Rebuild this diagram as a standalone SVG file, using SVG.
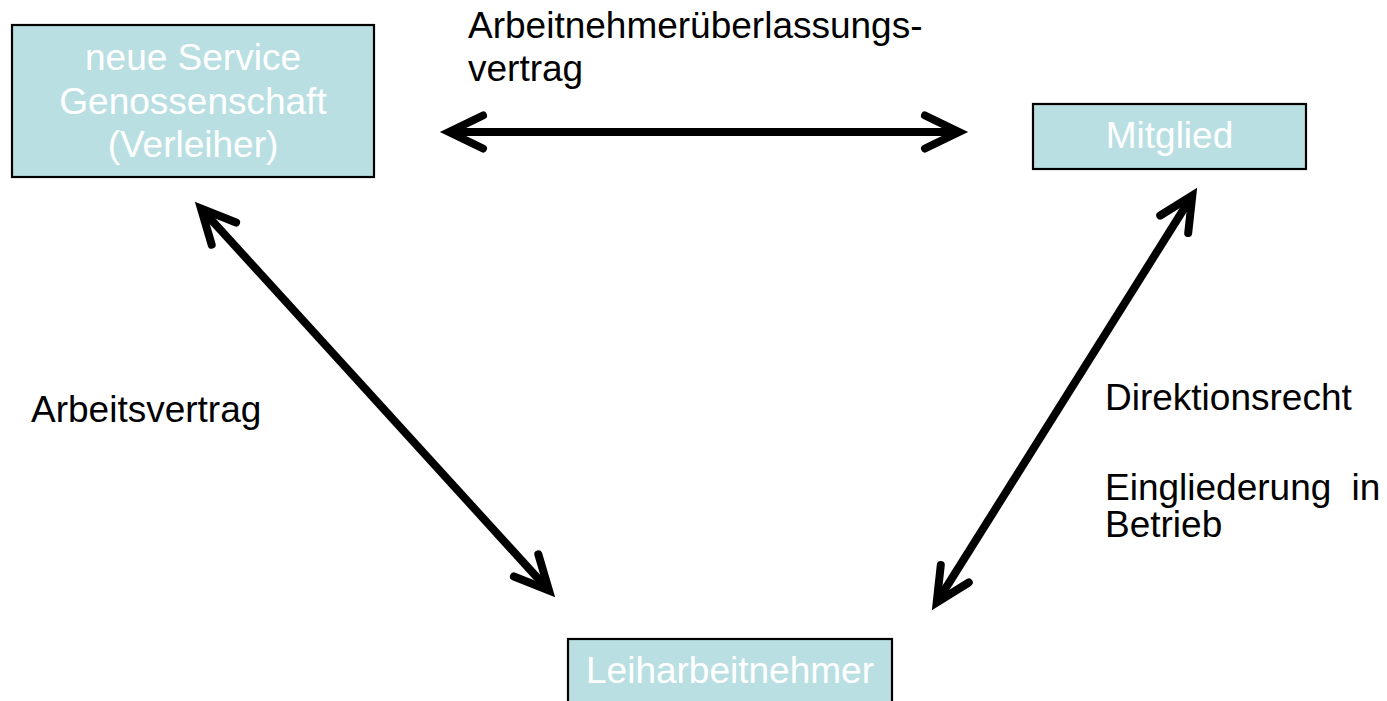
<svg xmlns="http://www.w3.org/2000/svg" width="1387" height="701" viewBox="0 0 1387 701">
  <style>
    .box { fill: #B9DFE2; stroke: #000; stroke-width: 2.2; }
    .btxt { font-family: "Liberation Sans", Arial, sans-serif; font-size: 37px; fill: #FFFFFF; text-anchor: middle; }
    .lbl { font-family: "Liberation Sans", Arial, sans-serif; font-size: 37px; fill: #000; }
    .conn { stroke: #000; stroke-width: 8; fill: none; marker-start: url(#chev); marker-end: url(#chev); }
  </style>
  <defs>
    <marker id="chev" markerUnits="userSpaceOnUse" viewBox="-45 -25 65 50" markerWidth="65" markerHeight="50" refX="0" refY="0" orient="auto-start-reverse" overflow="visible">
      <path d="M-34,-16.5 L0,0 L-34,16.5" fill="none" stroke="#000" stroke-width="8" stroke-linecap="round" stroke-linejoin="miter" stroke-miterlimit="10"/>
    </marker>
  </defs>
  <rect width="1387" height="701" fill="#FFFFFF"/>

  <g id="node-genossenschaft">
    <rect class="box" x="12" y="25" width="362" height="152"/>
    <text class="btxt" x="193" y="70">neue Service</text>
    <text class="btxt" x="193" y="114">Genossenschaft</text>
    <text class="btxt" x="193" y="157">(Verleiher)</text>
  </g>
  <g id="node-mitglied">
    <rect class="box" x="1033" y="104" width="273" height="65"/>
    <text class="btxt" x="1169.5" y="148">Mitglied</text>
  </g>
  <g id="node-leiharbeitnehmer">
    <rect class="box" x="568" y="639" width="324" height="70"/>
    <text class="btxt" x="730" y="683">Leiharbeitnehmer</text>
  </g>

  <g id="connectors">
    <line class="conn" x1="449" y1="132" x2="959" y2="132"/>
    <line class="conn" x1="201" y1="208.5" x2="549" y2="590.5"/>
    <line class="conn" x1="1192.3" y1="195.5" x2="936.7" y2="602.5"/>
  </g>

  <g id="labels">
    <text class="lbl" x="468" y="38">Arbeitnehmerüberlassungs-</text>
    <text class="lbl" x="468" y="81">vertrag</text>
    <text class="lbl" x="31" y="422">Arbeitsvertrag</text>
    <text class="lbl" x="1105" y="410">Direktionsrecht</text>
    <text class="lbl" x="1105" y="500" word-spacing="10">Eingliederung in</text>
    <text class="lbl" x="1105" y="537">Betrieb</text>
  </g>
</svg>
